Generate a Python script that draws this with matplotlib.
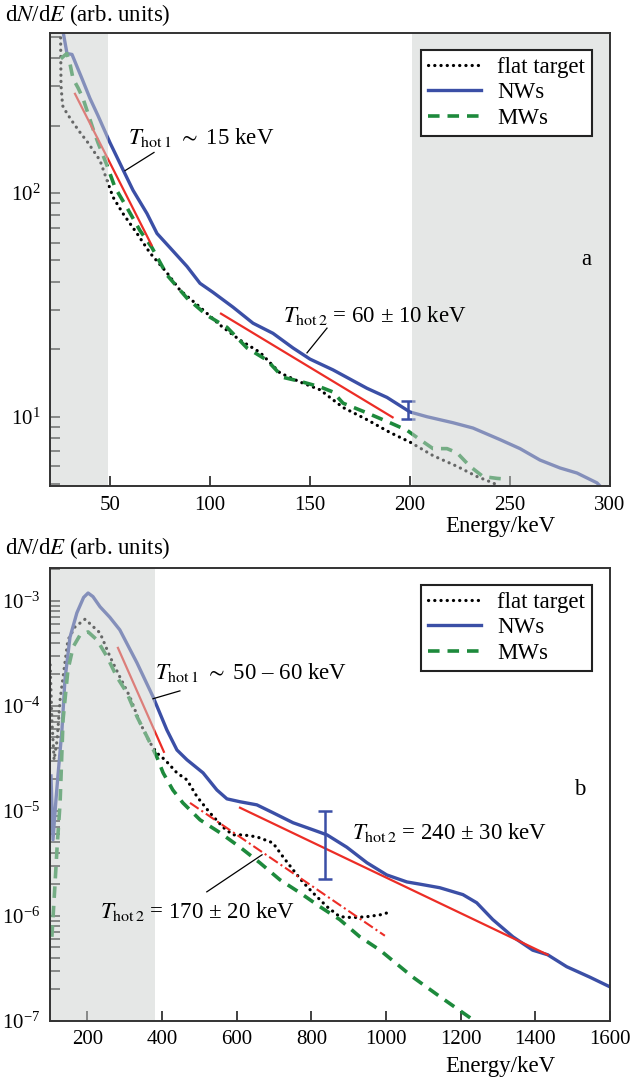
import matplotlib
matplotlib.use('Agg')
import matplotlib.pyplot as plt
from matplotlib.ticker import LogLocator, NullFormatter, NullLocator
import numpy as np

plt.rcParams['font.family'] = ['Liberation Serif', 'DejaVu Serif']
plt.rcParams['mathtext.fontset'] = 'stix'

# ---- panel a data (energy keV, dN/dE) ----
E_flat_a = [24.8, 25.3, 25.5, 26.3, 28.5, 31.5, 35, 39, 45, 48.5, 51.5, 56.5, 63.5, 70, 78.5,
            85, 95, 105, 115, 125, 135, 145, 155, 166.5, 178.5, 190, 200, 211.5, 223.5,
            233.5, 241.5, 246]
flat_a = [600, 506, 303, 246, 227, 207, 187, 168, 140, 114, 96, 81, 66, 54, 44,
          36.8, 30.9, 25.7, 22, 19.4, 15.7, 14.3, 13.2, 11.0, 9.7, 8.5, 7.7, 6.7, 6.0,
          5.4, 5.06, 4.8]
E_nw_a = [26, 28.5, 31, 33.5, 36, 40, 44, 50, 57.5, 61.5, 68.5, 73.5, 80, 88.5, 95, 101.5,
          111.5, 121.5, 131.5, 141.5, 150, 161.5, 178.5, 188.5, 200, 208.5, 221.5, 231.5,
          245, 255, 265, 275, 283.5, 293.5, 296]
nw_a = [560, 421, 417, 368, 325, 265, 222, 168, 122, 103, 81, 66, 57, 47, 39.5, 36,
        30.9, 26.2, 23.6, 20.3, 18.1, 16.2, 13.4, 12.2, 10.5, 10.0, 9.4, 8.9,
        7.9, 7.2, 6.4, 5.9, 5.6, 5.06, 4.8]
E_mw_a = [25.4, 28.4, 30, 31.5, 34, 36.5, 39, 41.5, 44, 48.5, 52.5, 58.5, 65, 71, 78.5, 88.5,
          98.5, 108.5, 118.5, 128.5, 136.5, 145, 155, 161.5, 166.5, 178.5, 190, 198.5,
          205, 211.5, 218.5, 223.5, 230, 236.5, 243.5, 249]
mw_a = [399, 421, 379, 325, 296, 265, 227, 194, 168, 133, 106, 86, 68, 57, 43, 33.9,
        28.4, 25.1, 20.3, 17.9, 15.0, 14.4, 13.6, 12.9, 11.5, 10.4, 9.4, 8.7,
        7.9, 7.2, 7.2, 6.9, 6.0, 5.4, 5.3, 5.25]
fit1_a_E, fit1_a = [32.5, 70.8], [278, 58.5]
fit2_a_E, fit2_a = [105.5, 191.3], [28.9, 9.94]
err_a_E, err_a_lo, err_a_hi = 199, 9.8, 11.8

# ---- panel b data ----
E_flat_b = [100.5, 105, 111, 119, 127, 137.5, 148, 167, 194, 220, 234, 261, 287, 314, 341,
            368, 386, 408, 440, 467, 494, 528, 563, 590, 617, 654, 697, 724, 751, 777,
            804, 842, 876, 911, 949, 984, 1005]
flat_b = [2.46e-4, 7.3e-5, 3.06e-5, 4.7e-5, 1.14e-4, 2.2e-4, 4.25e-4, 5.65e-4, 6.7e-4,
          5.5e-4, 4.96e-4, 2.93e-4, 1.89e-4, 1.22e-4, 6.9e-5, 4.45e-5, 3.56e-5, 3.06e-5,
          2.3e-5, 1.97e-5, 1.36e-5, 9.6e-6, 7.0e-6, 5.9e-6, 5.9e-6, 5.65e-6, 4.95e-6,
          3.65e-6, 2.74e-6, 2.1e-6, 1.66e-6, 1.22e-6, 9.8e-7, 9.6e-7, 9.8e-7, 1.02e-6, 1.07e-6]
E_nw_b = [102.7, 108, 116, 121, 132, 140, 153.5, 172, 190, 202, 215, 234, 260, 287, 333, 376,
          413, 440, 467, 510, 547, 574, 609, 654, 697, 751, 804, 842, 895, 949, 1002, 1056,
          1091, 1144, 1206, 1243, 1286, 1340, 1393, 1433, 1484, 1546, 1600]
nw_b = [2.15e-5, 5.3e-6, 1.28e-5, 2.1e-5, 5.9e-5, 1.77e-4, 4.5e-4, 7.7e-4, 1.08e-3, 1.19e-3,
        1.1e-3, 8.8e-4, 7.0e-4, 5.3e-4, 2.57e-4, 1.22e-4, 5.9e-5, 3.8e-5, 3.06e-5, 2.3e-5,
        1.58e-5, 1.3e-5, 1.22e-5, 1.14e-5, 9.6e-6, 7.7e-6, 6.6e-6, 5.9e-6, 4.5e-6, 3.2e-6,
        2.45e-6, 2.1e-6, 2.0e-6, 1.85e-6, 1.59e-6, 1.33e-6, 9.2e-7, 6.3e-7, 4.7e-7, 4.25e-7,
        3.27e-7, 2.6e-7, 2.1e-7]
E_mw_b = [105, 113, 119, 127, 135, 148, 162, 180, 202, 226, 253, 279, 306, 333, 360, 386,
          403, 429, 456, 502, 555, 609, 662, 716, 769, 823, 876, 930, 984, 1072, 1144,
          1233, 1251]
mw_b = [6.3e-7, 1.89e-6, 4.5e-6, 1.19e-5, 7.4e-5, 2.2e-4, 3.65e-4, 4.7e-4, 5.07e-4, 4.25e-4,
        2.93e-4, 1.89e-4, 1.33e-4, 7.9e-5, 5.07e-5, 3.27e-5, 2.3e-5, 1.58e-5, 1.19e-5,
        8.2e-6, 6.2e-6, 4.5e-6, 3.2e-6, 2.2e-6, 1.66e-6, 1.22e-6, 9.2e-7, 6.3e-7, 4.7e-7,
        2.6e-7, 1.7e-7, 1.02e-7, 9e-8]
fit1_b_E, fit1_b = [282, 405], [3.57e-4, 3.65e-5]
fit2_b_E, fit2_b = [609, 1433], [1.07e-5, 4.25e-7]
fit3_b_E, fit3_b = [475, 997], [1.19e-5, 6.45e-7]
err_b_E, err_b_lo, err_b_hi = 836, 2.25e-6, 1.0e-5

blue = '#3b4fa6'
green = '#1d8a3c'
red = '#ec2d26'
shade = '#cdd0cf'

fig = plt.figure(figsize=(6.3, 10.8), dpi=100)
ax_a = fig.add_axes([50/630, 1-486/1080, 560/630, 453/1080])
ax_b = fig.add_axes([50/630, 1-1020.7/1080, 560/630, 452.7/1080])


def draw_curves(ax, Ef, f, En, n, Em, m):
    ax.plot(Ef, f, color='black', lw=2.3, linestyle=(0, (0.05, 1.9)),
            dash_capstyle='round', label='flat target', zorder=2)
    ax.plot(En, n, color=blue, lw=2.4, label='NWs', zorder=2)
    ax.plot(Em, m, color=green, lw=2.6, linestyle=(0, (3.2, 2.2)), label='MWs', zorder=2)


def style(ax):
    ax.set_yscale('log')
    for s in ax.spines.values():
        s.set_linewidth(1.4)
        s.set_color('#333333')
        s.set_zorder(6)
    ax.tick_params(which='both', direction='in', length=7, width=1.3, color='#333333',
                   labelsize=15, pad=7)
    leg = ax.legend(loc='upper right', bbox_to_anchor=(0.988, 0.988), fontsize=16.5,
                    frameon=True, fancybox=False, edgecolor='#222222', framealpha=1,
                    handlelength=2.3, labelspacing=0.2, borderpad=0.3, handletextpad=0.7)
    leg.get_frame().set_linewidth(1.5)
    leg.set_zorder(7)


# ---- panel a ----
ax = ax_a
draw_curves(ax, E_flat_a, flat_a, E_nw_a, nw_a, E_mw_a, mw_a)
ax.plot(fit1_a_E, fit1_a, color=red, lw=1.6, zorder=2)
ax.plot(fit2_a_E, fit2_a, color=red, lw=1.6, zorder=2)
ax.errorbar([err_a_E], [np.sqrt(err_a_lo*err_a_hi)],
            yerr=[[np.sqrt(err_a_lo*err_a_hi)-err_a_lo], [err_a_hi-np.sqrt(err_a_lo*err_a_hi)]],
            fmt='none', ecolor=blue, elinewidth=1.8, capsize=5, capthick=1.8, zorder=2)
ax.axvspan(20, 49, color=shade, alpha=0.5, lw=0, zorder=3)
ax.axvspan(201, 300, color=shade, alpha=0.5, lw=0, zorder=3)
ax.set_xlim(20, 300)
ax.set_ylim(4.9, 520)
ax.set_xticks([50, 100, 150, 200, 250, 300])
ax.set_yticks([10, 100])
ax.set_yticklabels(['10', r'10$^{2}$'])
ax.yaxis.set_minor_locator(LogLocator(base=10, subs=np.arange(2, 10)))
ax.yaxis.set_minor_formatter(NullFormatter())
style(ax)
ax.text(59, 177, r'$T_{\rm hot\,1}$ $\sim$ 15 keV', fontsize=16.5, va='center', ha='left', zorder=4)
ax.plot([72, 57.5], [152, 126], color='black', lw=0.9, zorder=4)
ax.text(136.5, 28.5, r'$T_{\rm hot\,2}$ = 60 ± 10 keV', fontsize=16.5, va='center', ha='left', zorder=4)
ax.plot([158.5, 148.5], [24.9, 19.3], color='black', lw=0.9, zorder=4)
ax.text(0.957, 0.5, 'a', transform=ax.transAxes, fontsize=16.5, ha='center', va='center')
ax.text(0.805, -0.09, 'Energy/keV', transform=ax.transAxes, fontsize=16.5, ha='center', va='center')
ax.text(-0.081, 1.04, r'd$N$/d$E$ (arb. units)', transform=ax.transAxes, fontsize=16.5,
        ha='left', va='center')

# ---- panel b ----
ax = ax_b
draw_curves(ax, E_flat_b, flat_b, E_nw_b, nw_b, E_mw_b, mw_b)
ax.plot(fit1_b_E, fit1_b, color=red, lw=1.6, zorder=2)
ax.plot(fit2_b_E, fit2_b, color=red, lw=1.6, zorder=2)
ax.plot(fit3_b_E, fit3_b, color=red, lw=1.5, linestyle=(0, (5, 1.6, 1, 1.6)), zorder=2)
ax.errorbar([err_b_E], [np.sqrt(err_b_lo*err_b_hi)],
            yerr=[[np.sqrt(err_b_lo*err_b_hi)-err_b_lo], [err_b_hi-np.sqrt(err_b_lo*err_b_hi)]],
            fmt='none', ecolor=blue, elinewidth=1.8, capsize=5, capthick=1.8, zorder=2)
ax.axvspan(100, 381, color=shade, alpha=0.5, lw=0, zorder=3)
ax.set_xlim(100, 1600)
ax.set_ylim(1e-7, 2.06e-3)
ax.set_xticks([200, 400, 600, 800, 1000, 1200, 1400, 1600])
ax.set_yticks([1e-7, 1e-6, 1e-5, 1e-4, 1e-3])
ax.set_yticklabels([r'10$^{-7}$', r'10$^{-6}$', r'10$^{-5}$', r'10$^{-4}$', r'10$^{-3}$'])
ax.yaxis.set_minor_locator(NullLocator())
style(ax)
ax.text(381, 2.06e-4, r'$T_{\rm hot\,1}$ $\sim$ 50 – 60 keV', fontsize=16.5, va='center', ha='left', zorder=4)
ax.plot([448, 376], [1.39e-4, 1.17e-4], color='black', lw=0.9, zorder=4)
ax.text(909, 6.2e-6, r'$T_{\rm hot\,2}$ = 240 ± 30 keV', fontsize=16.5, va='center', ha='left', zorder=4)
ax.text(234, 1.09e-6, r'$T_{\rm hot\,2}$ = 170 ± 20 keV', fontsize=16.5, va='center', ha='left', zorder=4)
ax.plot([520, 668], [1.69e-6, 3.81e-6], color='black', lw=0.9, zorder=4)
ax.text(0.946, 0.51, 'b', transform=ax.transAxes, fontsize=16.5, ha='center', va='center')
ax.text(0.805, -0.102, 'Energy/keV', transform=ax.transAxes, fontsize=16.5, ha='center', va='center')
ax.text(-0.081, 1.044, r'd$N$/d$E$ (arb. units)', transform=ax.transAxes, fontsize=16.5,
        ha='left', va='center')

fig.savefig('out.png', dpi=100)
